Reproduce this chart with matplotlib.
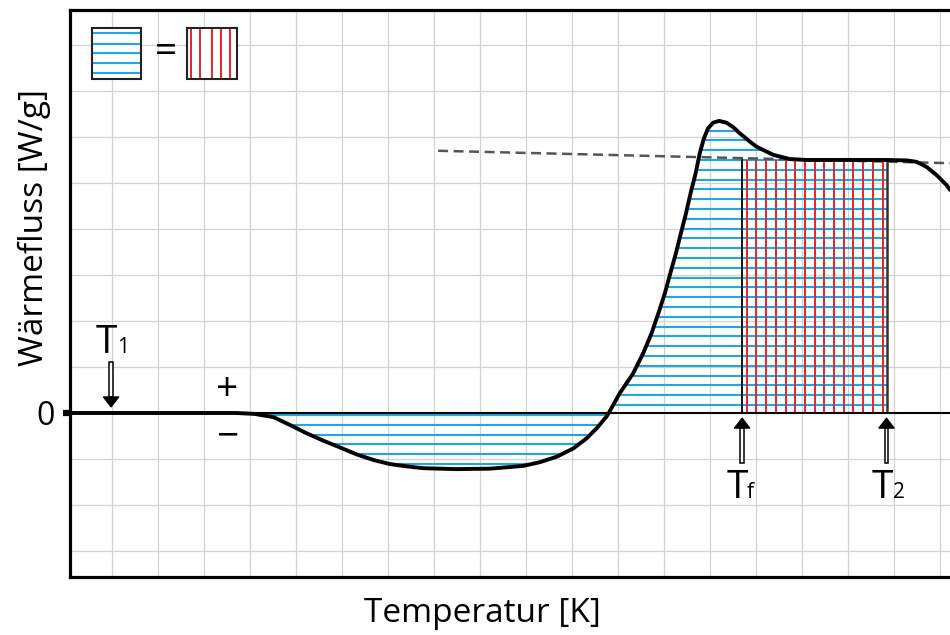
import numpy as np
import matplotlib
matplotlib.use("Agg")
import matplotlib.pyplot as plt
from matplotlib.patches import Rectangle, Polygon
from matplotlib.path import Path

plt.rcParams['font.family'] = ['Open Sans', 'DejaVu Sans']

# DSC curve (temperature in grid units, heat flow in grid units)
temp = np.array([0.09, 2.91, 3.70, 4.10, 4.51, 4.87, 5.23, 5.59, 5.96, 6.32, 6.68,
                 7.04, 7.41, 7.77, 8.49, 9.22, 9.94, 10.30, 10.67, 11.03, 11.32,
                 11.54, 11.75, 11.80, 12.04, 12.33, 12.55, 12.73, 12.88, 13.02,
                 13.14, 13.26, 13.37, 13.48, 13.58, 13.69, 13.78, 13.87, 13.96, 14.07,
                 14.20, 14.36, 14.51, 14.65, 14.83, 15.01, 15.38, 15.74, 16.10, 17.84,
                 18.28, 18.49, 18.71, 18.93, 19.14, 19.22])
flux = np.array([0.0, 0.0, 0.0, -0.02, -0.09, -0.26, -0.44, -0.60, -0.75, -0.90, -1.02,
                 -1.11, -1.16, -1.20, -1.22, -1.21, -1.15, -1.07, -0.95, -0.77, -0.55,
                 -0.33, -0.08, 0.0, 0.43, 0.86, 1.30, 1.73, 2.17, 2.60,
                 3.04, 3.47, 3.91, 4.34, 4.78, 5.21, 5.65, 5.97, 6.19, 6.31,
                 6.35, 6.31, 6.21, 6.08, 5.93, 5.79, 5.61, 5.52, 5.50, 5.50,
                 5.49, 5.46, 5.35, 5.17, 4.96, 4.85])

# baseline extrapolation (dashed)
base_t = [8.09, 19.22]
base_f = [5.70, 5.43]

T1 = 0.98
Tf = 14.70
T2 = 17.84
plateau = 5.50

blue = '#1ea7e1'
red = '#e8232c'

fig = plt.figure(figsize=(9.5, 6.35), dpi=100)
ax = fig.add_axes([70 / 950, (635 - 577) / 635, 880 / 950, 567 / 635])
ax.set_xlim(0.087, 19.22)
ax.set_ylim(-3.565, 8.76)

# grid
ax.set_xticks(np.arange(1, 20), minor=True)
ax.set_yticks(np.arange(-3, 9), minor=True)
ax.set_xticks([])
ax.set_yticks([0])
ax.set_yticklabels(['0'], fontsize=23)
ax.tick_params(axis='y', which='major', length=5, width=4.5, pad=6, color='black')
ax.tick_params(which='minor', length=0)
ax.grid(which='minor', color='#d2d2d2', lw=0.9)
ax.set_axisbelow(True)

for side in ['left', 'top', 'bottom']:
    ax.spines[side].set_linewidth(2.3)
ax.spines['right'].set_visible(False)

# zero line
ax.axhline(0, color='black', lw=1.5, zorder=3)

# hatch areas
pos = ax.fill_between(temp, 0, flux, where=(flux >= 0) & (temp <= T2), interpolate=True,
                      facecolor='none', edgecolor='none')
neg = ax.fill_between(temp, 0, flux, where=(flux <= 0) & (temp >= 3.5), interpolate=True,
                      facecolor='none', edgecolor='none')
pos_clip = Path.make_compound_path(*pos.get_paths())
neg_clip = Path.make_compound_path(*neg.get_paths())

step = 0.213
lc = ax.hlines(np.arange(0.174, 6.4, step), 11, T2, colors=blue, lw=1.5, zorder=2)
lc.set_clip_path(pos_clip, ax.transData)
lc = ax.hlines(-np.arange(0.043, 1.2, step), 3.5, 12, colors=blue, lw=1.5, zorder=2)
lc.set_clip_path(neg_clip, ax.transData)

ax.vlines(np.arange(14.80, T2, 0.211), 0, plateau, colors=red, lw=1.4, zorder=2.5)
ax.vlines(Tf, 0, plateau + 0.07, colors='black', lw=1.3, zorder=2.6)
ax.vlines(T2, 0, plateau, colors='#333333', lw=1.8, zorder=2.6)

# curve and baseline
ax.plot(base_t, base_f, color='#555555', lw=1.8, dashes=(4, 2.2), zorder=3)
ax.plot(temp, flux, color='black', lw=2.8, solid_joinstyle='round',
        solid_capstyle='round', zorder=4)


def hollow_arrow(x, y_tail, y_tip):
    d = np.sign(y_tip - y_tail)
    head = 0.22
    y_base = y_tip - d * head
    ax.add_patch(Rectangle((x - 0.04, min(y_tail, y_base)), 0.08, abs(y_base - y_tail),
                           facecolor='white', edgecolor='black', lw=1.1, zorder=5))
    ax.add_patch(Polygon([[x - 0.17, y_base], [x + 0.17, y_base], [x, y_tip]],
                         closed=True, facecolor='black', edgecolor='black', lw=0.8, zorder=5))


def t_label(x, sub, x_sub, y):
    ax.text(x, y, 'T', fontsize=28, ha='center', va='baseline', zorder=6)
    ax.text(x_sub, y, sub, fontsize=15, ha='left', va='baseline', zorder=6)


hollow_arrow(T1, 1.11, 0.13)
hollow_arrow(Tf, -1.09, -0.11)
hollow_arrow(T2, -1.09, -0.11)
t_label(0.87, '1', 1.11, 1.30)
t_label(14.59, 'f', 14.80, -1.85)
t_label(17.74, '2', 17.98, -1.85)

ax.text(3.5, 0.5, '+', fontsize=28, ha='center', va='center')
ax.text(3.5, -0.52, '\u2212', fontsize=28, ha='center', va='center')

# legend: blue area = red area
ax.add_patch(Rectangle((0.565, 7.26), 1.065, 1.11, facecolor='white', edgecolor='#222222',
                       lw=1.5, zorder=5))
ax.hlines(7.26 + np.array([0.13, 0.35, 0.56, 0.77, 0.99]), 0.59, 1.61, colors=blue, lw=1.5, zorder=6)
ax.add_patch(Rectangle((2.624, 7.26), 1.086, 1.11, facecolor='white', edgecolor='#222222',
                       lw=1.5, zorder=5))
ax.vlines(2.624 + np.array([0.09, 0.30, 0.54, 0.75, 0.94]), 7.28, 8.35, colors=red, lw=1.4, zorder=6)
ax.text(2.163, 7.85, '=', fontsize=28, ha='center', va='center')

fig.text(34 / 950, 1 - 228 / 635, 'Wärmefluss [W/g]', rotation=90, fontsize=24,
         ha='center', va='center')
fig.text(482 / 950, 1 - 613 / 635, 'Temperatur [K]', fontsize=24, ha='center', va='center')

fig.savefig('out.png', dpi=100)
